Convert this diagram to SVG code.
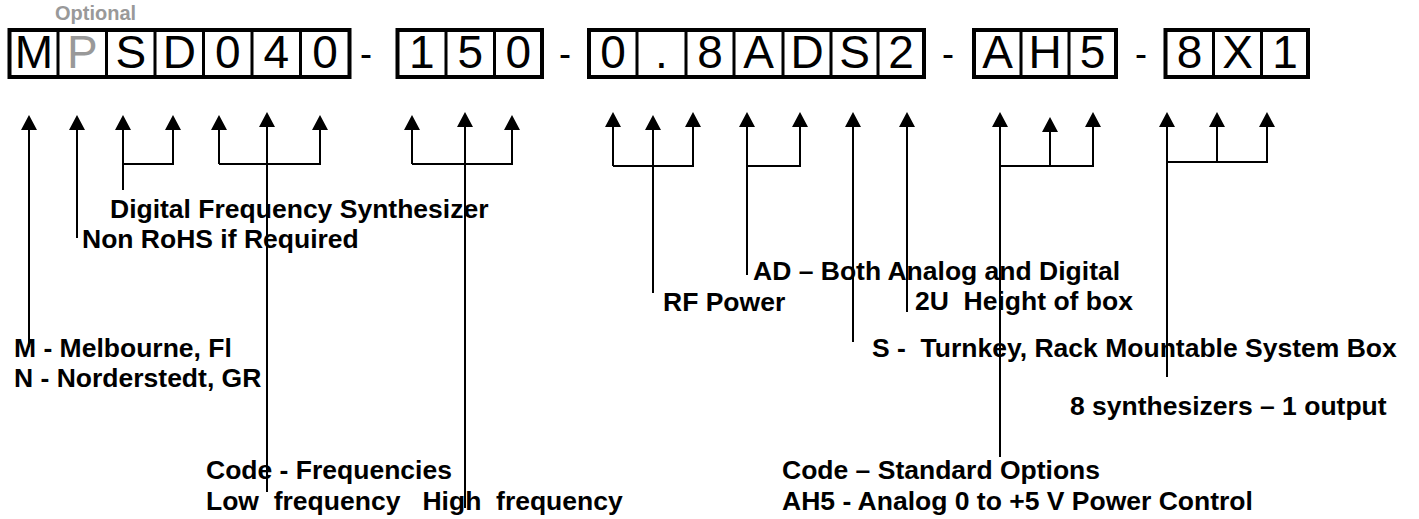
<svg xmlns="http://www.w3.org/2000/svg" width="1419" height="519" viewBox="0 0 1419 519">
<style>
.box{fill:#fff;stroke:#000;stroke-width:4}
.div{stroke:#000;stroke-width:3}
.ch{font-family:"Liberation Sans",Arial,sans-serif;font-size:46px;fill:#000;text-anchor:middle}
.dash{font-family:"Liberation Sans",Arial,sans-serif;font-size:36px;fill:#000;text-anchor:middle}
.gray{fill:#999}
.opt{font-family:"Liberation Sans",Arial,sans-serif;font-size:20px;font-weight:bold;fill:#999}
.lbl{font-family:"Liberation Sans",Arial,sans-serif;font-size:26.5px;font-weight:bold;fill:#000}
.ln{fill:none;stroke:#000;stroke-width:2}
.ar{fill:none;stroke:#000;stroke-width:2;marker-end:url(#ah)}
</style>
<defs>
<marker id="ah" viewBox="0 0 15 16" refX="0" refY="8" markerWidth="15" markerHeight="16" markerUnits="userSpaceOnUse" orient="auto">
<path d="M0,0 L15,8 L0,16 Z" fill="#000"/>
</marker>
</defs>
<rect width="1419" height="519" fill="#fff"/>

<g id="code-mpsd040">
<text class="opt" x="55" y="20">Optional</text>
<rect class="box" x="9.5" y="30" width="340" height="47"/>
<path class="div" d="M58,30V77M106.5,30V77M155,30V77M203.5,30V77M252,30V77M300.5,30V77"/>
<text class="ch" x="33.8" y="68">M</text>
<text class="ch gray" x="82.3" y="68">P</text>
<text class="ch" x="130.8" y="68">S</text>
<text class="ch" x="179.3" y="68">D</text>
<text class="ch" x="227.8" y="68">0</text>
<text class="ch" x="276.3" y="68">4</text>
<text class="ch" x="325" y="68">0</text>
</g>
<g id="dash1"><text class="dash" x="366" y="65.5">-</text></g>
<g id="code-150">
<rect class="box" x="397.5" y="30" width="144.5" height="47"/>
<path class="div" d="M446,30V77M494.5,30V77"/>
<text class="ch" x="421.8" y="68">1</text>
<text class="ch" x="470.3" y="68">5</text>
<text class="ch" x="518.3" y="68">0</text>
</g>
<g id="dash2"><text class="dash" x="565" y="65.5">-</text></g>
<g id="code-08ads2">
<rect class="box" x="589" y="30" width="335" height="47"/>
<path class="div" d="M637,30V77M686,30V77M734,30V77M783,30V77M831,30V77M878,30V77"/>
<text class="ch" x="613" y="68">0</text>
<text class="ch" x="661.5" y="68">.</text>
<text class="ch" x="710" y="68">8</text>
<text class="ch" x="758.5" y="68">A</text>
<text class="ch" x="807" y="68">D</text>
<text class="ch" x="854.5" y="68">S</text>
<text class="ch" x="901" y="68">2</text>
</g>
<g id="dash3"><text class="dash" x="948" y="65.5">-</text></g>
<g id="code-ah5">
<rect class="box" x="974" y="30" width="142" height="47"/>
<path class="div" d="M1021,30V77M1069,30V77"/>
<text class="ch" x="997.5" y="68">A</text>
<text class="ch" x="1045" y="68">H</text>
<text class="ch" x="1092.5" y="68">5</text>
</g>
<g id="dash4"><text class="dash" x="1141" y="65.5">-</text></g>
<g id="code-8x1">
<rect class="box" x="1165.5" y="30" width="142.5" height="47"/>
<path class="div" d="M1213.5,30V77M1261.5,30V77"/>
<text class="ch" x="1189.5" y="68">8</text>
<text class="ch" x="1237.5" y="68">X</text>
<text class="ch" x="1285" y="68">1</text>
</g>

<g id="connectors">
<path class="ar" d="M29,347V130"/>
<path class="ar" d="M77,238V130"/>
<path class="ar" d="M123,190V130"/>
<path class="ar" d="M123,164H173V130"/>
<path class="ar" d="M219,164V130"/>
<path class="ar" d="M219,164H320V130"/>
<path class="ar" d="M267,492V127"/>
<path class="ar" d="M412,164V130"/>
<path class="ar" d="M412,164H512V130"/>
<path class="ar" d="M465,508V127"/>
<path class="ar" d="M613,166V127"/>
<path class="ar" d="M613,166H693V127"/>
<path class="ar" d="M653,293V130"/>
<path class="ar" d="M747,275V127"/>
<path class="ar" d="M747,166H800V127"/>
<path class="ar" d="M853,342V127"/>
<path class="ar" d="M907,312V127"/>
<path class="ar" d="M1000,457V127"/>
<path class="ar" d="M1000,166H1093V127"/>
<path class="ar" d="M1050,166V132"/>
<path class="ar" d="M1167,377V127"/>
<path class="ar" d="M1167,162H1267V127"/>
<path class="ar" d="M1217,162V127"/>
</g>

<g id="label-dfs"><text class="lbl" x="110" y="218">Digital Frequency Synthesizer</text></g>
<g id="label-rohs"><text class="lbl" x="82" y="248">Non RoHS if Required</text></g>
<g id="label-location"><text class="lbl" x="14" y="357">M - Melbourne, Fl</text><text class="lbl" x="14" y="387">N - Norderstedt, GR</text></g>
<g id="label-freq"><text class="lbl" x="206" y="479">Code - Frequencies</text><text class="lbl" x="206" y="510" xml:space="preserve">Low  frequency   High  frequency</text></g>
<g id="label-rf"><text class="lbl" x="663" y="311">RF Power</text></g>
<g id="label-ad"><text class="lbl" x="753" y="280">AD – Both Analog and Digital</text></g>
<g id="label-2u"><text class="lbl" x="915" y="310" xml:space="preserve">2U  Height of box</text></g>
<g id="label-s"><text class="lbl" x="872" y="357" xml:space="preserve">S -  Turnkey, Rack Mountable System Box</text></g>
<g id="label-8x1"><text class="lbl" x="1070" y="415">8 synthesizers – 1 output</text></g>
<g id="label-options"><text class="lbl" x="782" y="479">Code – Standard Options</text><text class="lbl" x="782" y="510">AH5 - Analog 0 to +5 V Power Control</text></g>
</svg>
